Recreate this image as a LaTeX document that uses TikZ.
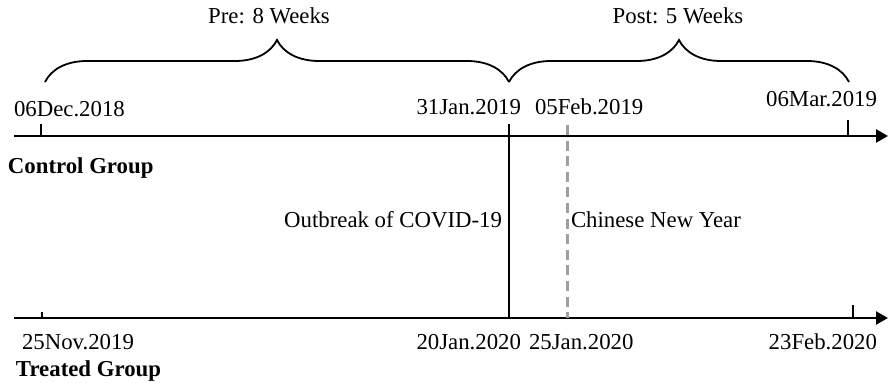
\documentclass[tikz,border=0pt]{standalone}
\usepackage{fontspec}
\setmainfont{Liberation Serif}
\usetikzlibrary{arrows.meta,decorations.pathreplacing}

\begin{document}
\begin{tikzpicture}[x=0.5pt,y=-0.5pt]
\tikzset{
  datelabel/.style={inner sep=0, outer sep=0, font=\fontsize{11.4pt}{13pt}\selectfont},
  grouplabel/.style={inner sep=0, outer sep=0, font=\fontsize{11.4pt}{13pt}\selectfont\bfseries},
  axisline/.style={line width=1.1pt, -{Triangle[length=6pt,width=6.5pt]}},
  tickline/.style={line width=0.8pt},
  eventline/.style={line width=1pt},
  holidayline/.style={line width=1.5pt, gray!75, dash pattern=on 5pt off 2.8pt},
  periodbrace/.style={line width=0.9pt, decorate, decoration={brace, amplitude=21pt}},
}
\useasboundingbox (0,0) rectangle (888,383);

% axes
\coordinate (ctrlstart) at (14,136);
\coordinate (ctrlend) at (888,136);
\coordinate (trtstart) at (14,318);
\coordinate (trtend) at (888,318);
\draw[axisline] (ctrlstart) -- (ctrlend);
\draw[axisline] (trtstart) -- (trtend);

% ticks
\coordinate (ctrlfirst) at (41,136);
\coordinate (ctrllast) at (848,136);
\coordinate (trtfirst) at (42,318);
\coordinate (trtlast) at (853,318);
\draw[tickline] (ctrlfirst) -- ++(0,-12);
\draw[tickline] (ctrllast) -- ++(0,-16);
\draw[tickline] (trtfirst) -- ++(0,-6);
\draw[tickline] (trtlast) -- ++(0,-13);

% outbreak and new year
\coordinate (outbreaktop) at (509,124);
\coordinate (outbreakbot) at (509,318);
\coordinate (newyeartop) at (567,125);
\coordinate (newyearbot) at (567,318);
\draw[eventline] (outbreaktop) -- (outbreakbot);
\draw[holidayline] (newyeartop) -- (newyearbot);

% braces
\coordinate (prestart) at (45,82);
\coordinate (premid) at (509,82);
\coordinate (postend) at (849,82);
\draw[periodbrace] (prestart) -- (premid);
\draw[periodbrace] (premid) -- (postend);
\node[datelabel, anchor=base] (prelabel) at (269,24) {Pre: 8 Weeks};
\node[datelabel, anchor=base] (postlabel) at (678,24) {Post: 5 Weeks};

% control dates
\node[datelabel, anchor=base west] (ctrlfrom) at (14,117) {06Dec.2018};
\node[datelabel, anchor=base east] (ctrlcut) at (521,115) {31Jan.2019};
\node[datelabel, anchor=base west] (ctrlny) at (535,115) {05Feb.2019};
\node[datelabel, anchor=base east] (ctrlto) at (877,107) {06Mar.2019};
\node[grouplabel, anchor=base west] (ctrlname) at (8,174) {Control Group};

% events
\node[datelabel, anchor=base east] (outbreak) at (502,228) {Outbreak of COVID-19};
\node[datelabel, anchor=base west] (newyear) at (571,228) {Chinese New Year};

% treated dates
\node[datelabel, anchor=base west] (trtfrom) at (22,350) {25Nov.2019};
\node[datelabel, anchor=base east] (trtcut) at (521,350) {20Jan.2020};
\node[datelabel, anchor=base west] (trtny) at (529,350) {25Jan.2020};
\node[datelabel, anchor=base east] (trtto) at (877,350) {23Feb.2020};
\node[grouplabel, anchor=base west] (trtname) at (16,377) {Treated Group};
\end{tikzpicture}
\end{document}
